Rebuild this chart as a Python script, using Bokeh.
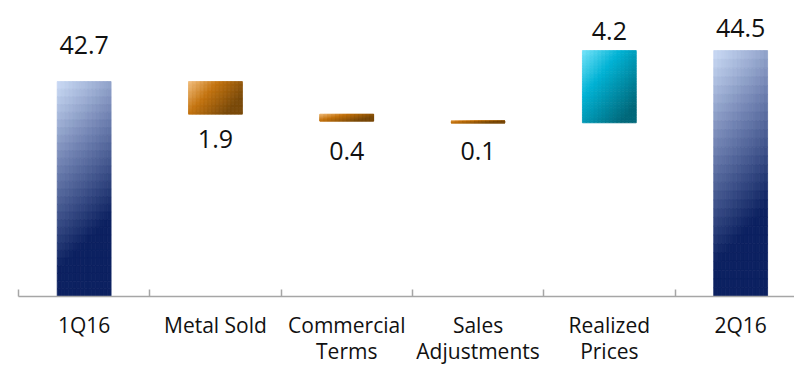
import numpy as np
from bokeh.plotting import figure
from bokeh.models import ColumnDataSource, FixedTicker, Range1d
from bokeh.core.properties import value
from bokeh.embed import file_html
from bokeh.resources import INLINE

# ---- data ----
categories = ["1Q16", "Metal Sold", "Commercial\nTerms", "Sales\nAdjustments", "Realized\nPrices", "2Q16"]
values = [42.7, -1.9, -0.4, -0.1, 4.2, 44.5]
kinds = ["total", "delta", "delta", "delta", "delta", "total"]
value_labels = ["42.7", "1.9", "0.4", "0.1", "4.2", "44.5"]
Y_MIN, Y_MAX = 30.2, 46.83

# ---- styles ----
FONT = "Open Sans"
BAR_W = 0.41
label_offsets = [-37, 25, 30, 28.5, -20, -23]   # px, negative = above

BLUE = [(0.0, (198, 214, 242)), (0.45, (110, 128, 176)), (1.0, (12, 33, 97))]
ORANGE = [(0.0, (243, 192, 128)), (0.45, (196, 116, 16)), (1.0, (122, 74, 10))]
CYAN = [(0.0, (118, 228, 250)), (0.4, (0, 178, 212)), (1.0, (0, 104, 122))]


def interp(stops, s):
    s = min(max(s, 0.0), 1.0)
    for (p0, c0), (p1, c1) in zip(stops[:-1], stops[1:]):
        if s <= p1:
            f = (s - p0) / (p1 - p0) if p1 > p0 else 0
            c = [round(a + (b - a) * f) for a, b in zip(c0, c1)]
            return "#%02x%02x%02x" % tuple(c)
    return "#%02x%02x%02x" % stops[-1][1]


def style_for(kind, v):
    if kind == "total":
        return BLUE, lambda u, t: (t + 0.25 * u - 0.03) / 0.85
    if v < 0:
        return ORANGE, lambda u, t: 0.8 * u + 0.45 * t
    return CYAN, lambda u, t: 0.55 * u + 0.6 * t


# ---- waterfall geometry from data ----
bottoms, tops = [], []
running = 0.0
for v, k in zip(values, kinds):
    if k == "total":
        bottoms.append(Y_MIN)
        tops.append(v)
        running = v
    else:
        new = running + v
        bottoms.append(min(running, new))
        tops.append(max(running, new))
        running = new

centers = [i + 0.5 for i in range(len(categories))]

# gradient cells
NX, NY = 14, 28
cl, cr, cb, ct, cc = [], [], [], [], []
for xc, b, tp, v, k in zip(centers, bottoms, tops, values, kinds):
    stops, fn = style_for(k, v)
    x0 = xc - BAR_W / 2
    dx = BAR_W / NX
    dy = (tp - b) / NY
    for j in range(NY):
        t = (j + 0.5) / NY  # 0 at top
        y_hi = tp - j * dy
        y_lo = tp - (j + 1) * dy
        for i in range(NX):
            u = (i + 0.5) / NX
            cl.append(x0 + i * dx)
            cr.append(x0 + (i + 1) * dx)
            ct.append(y_hi)
            cb.append(y_lo)
            cc.append(interp(stops, fn(u, t)))

cells = ColumnDataSource(dict(left=cl, right=cr, bottom=cb, top=ct, color=cc))

label_y = [b if (k == "delta" and v < 0) else tp for b, tp, v, k in zip(bottoms, tops, values, kinds)]
labels = ColumnDataSource(dict(x=centers, y=label_y, text=value_labels, off=label_offsets))

# ---- figure ----
BAND_PX = 131.3
FRAME_W = 776
p = figure(
    x_range=Range1d(0, FRAME_W / BAND_PX),
    y_range=Range1d(Y_MIN, Y_MAX),
    frame_width=FRAME_W, frame_height=286,
    min_border_left=18, min_border_right=0, min_border_top=10, min_border_bottom=69,
    output_backend="svg", toolbar_location=None,
    background_fill_color="white", border_fill_color="white",
)
p.outline_line_color = None
p.xgrid.visible = False
p.ygrid.visible = False
p.yaxis.visible = False

p.quad(left="left", right="right", bottom="bottom", top="top", source=cells,
       fill_color="color", line_color="color", line_width=0.8)

p.text(x="x", y="y", text="text", source=labels, y_offset="off",
       text_align="center", text_baseline="middle",
       text_font=value(FONT), text_font_size="25px", text_color="#111111")

ax = p.xaxis[0]
ax.ticker = FixedTicker(ticks=centers, minor_ticks=list(range(len(categories) + 1)))
ax.major_label_overrides = {c: name for c, name in zip(centers, categories)}
ax.major_tick_in = 0
ax.major_tick_out = 0
ax.minor_tick_in = 7
ax.minor_tick_out = 0
ax.minor_tick_line_color = "#a6a6a6"
ax.minor_tick_line_width = 1.5
ax.axis_line_color = "#a6a6a6"
ax.axis_line_width = 1.5
ax.major_label_standoff = 14
ax.major_label_text_font = FONT
ax.major_label_text_font_size = "21px"
ax.major_label_text_color = "#111111"
ax.major_label_text_line_height = 0.95

open("out.html", "w").write(file_html(p, INLINE))
